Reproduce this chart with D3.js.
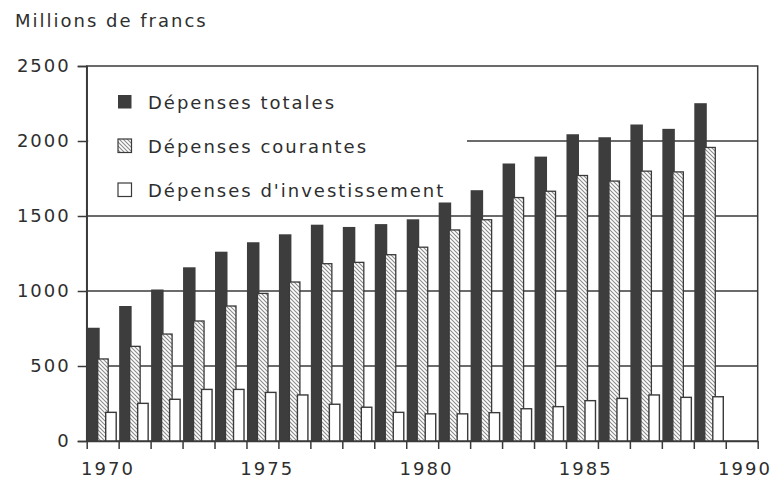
<!DOCTYPE html>
<html>
<head>
<meta charset="utf-8">
<script src="https://cdn.jsdelivr.net/npm/d3@7"></script>
<style>
  html, body { margin: 0; padding: 0; background: #fff; }
  svg { display: block; }
  text { font-family: "DejaVu Sans", sans-serif; font-size: 18px; fill: #2e2e2e; letter-spacing: 2px; }
</style>
</head>
<body>
<script>
// ---- data ----
const years = [1970,1971,1972,1973,1974,1975,1976,1977,1978,1979,1980,1981,1982,1983,1984,1985,1986,1987,1988,1989];
const depensesTotales   = [755, 900, 1010, 1158, 1262, 1325, 1378, 1442, 1427, 1446, 1478, 1590, 1672, 1850, 1896, 2045, 2025, 2110, 2081, 2252];
const depensesCourantes = [547, 631, 713, 800, 900, 984, 1060, 1182, 1191, 1242, 1292, 1407, 1475, 1623, 1665, 1770, 1733, 1799, 1794, 1957];
const depensesInvest    = [191, 251, 278, 344, 344, 324, 307, 245, 225, 191, 181, 181, 189, 215, 229, 269, 284, 307, 291, 295];
const seriesNames = ["Dépenses totales", "Dépenses courantes", "Dépenses d'investissement"];
const yTicks = [0, 500, 1000, 1500, 2000, 2500];
const xLabelYears = [1970, 1975, 1980, 1985, 1990];
const yTitle = "Millions de francs";

// ---- layout ----
const W = 773, H = 479;
const L = 86.7, R = 757.7, T = 66, B = 441;
const lineCol = "#3a3a3a";

const svg = d3.select("body").append("svg").attr("width", W).attr("height", H);

const defs = svg.append("defs");
const pat = defs.append("pattern").attr("id", "hatch")
  .attr("patternUnits", "userSpaceOnUse").attr("width", 4).attr("height", 4);
pat.append("rect").attr("width", 4).attr("height", 4).attr("fill", "#fff");
pat.append("path").attr("d", "M0,0 L4,4 M-1,3 L1,5 M3,-1 L5,1")
  .attr("stroke", "#8a8a8a").attr("stroke-width", 1.1);

const x = d3.scaleLinear().domain([1970, 1991]).range([L, R]);
const xLab = d3.scaleLinear().domain([1970, 1990]).range([107, 744]);
const y = d3.scaleLinear().domain([0, 2500]).range([B, T]);

// title
svg.append("text").attr("x", 15).attr("y", 27).text(yTitle);

// gridlines
svg.append("g").selectAll("line").data(yTicks.filter(v => v > 0 && v < 2500)).join("line")
  .attr("x1", L).attr("x2", R).attr("y1", d => y(d)).attr("y2", d => y(d))
  .attr("stroke", lineCol).attr("stroke-width", 1.4);

// legend background (hides gridline behind legend)
svg.append("rect").attr("x", L + 1.5).attr("y", T + 1.5).attr("width", 467 - L - 1.5).attr("height", 198 - T)
  .attr("fill", "#fff");

// frame
svg.append("rect").attr("x", L).attr("y", T).attr("width", R - L).attr("height", B - T)
  .attr("fill", "none").attr("stroke", lineCol).attr("stroke-width", 1.5);

// bars
const bars = svg.append("g");
const dark = "#3d3d3d";
bars.selectAll("rect.tot").data(years).join("rect").attr("class", "tot")
  .attr("x", d => x(d) + 0.5).attr("width", 12.5)
  .attr("y", (d, i) => y(depensesTotales[i])).attr("height", (d, i) => B - y(depensesTotales[i]))
  .attr("fill", dark);
bars.selectAll("rect.cou").data(years).join("rect").attr("class", "cou")
  .attr("x", d => x(d) + 11).attr("width", 10.5)
  .attr("y", (d, i) => y(depensesCourantes[i])).attr("height", (d, i) => B - y(depensesCourantes[i]))
  .attr("fill", "url(#hatch)").attr("stroke", lineCol).attr("stroke-width", 1.3);
bars.selectAll("rect.inv").data(years).join("rect").attr("class", "inv")
  .attr("x", d => x(d) + 19).attr("width", 10.5)
  .attr("y", (d, i) => y(depensesInvest[i])).attr("height", (d, i) => B - y(depensesInvest[i]))
  .attr("fill", "#fff").attr("stroke", lineCol).attr("stroke-width", 1.4);

// y axis
const yAxis = svg.append("g").attr("transform", `translate(${L},0)`)
  .call(d3.axisLeft(y).tickValues(yTicks).tickSize(9).tickPadding(7).tickFormat(d3.format("d")));
yAxis.select(".domain").attr("stroke", lineCol).attr("stroke-width", 1.5);
yAxis.selectAll(".tick line").attr("stroke", lineCol).attr("stroke-width", 1.5);
yAxis.selectAll(".tick text").attr("font-size", null).attr("font-family", null).attr("fill", "#2e2e2e");

// x axis ticks
const xAxis = svg.append("g").attr("transform", `translate(0,${B})`)
  .call(d3.axisBottom(x).tickValues(d3.range(1970, 1992)).tickSize(8).tickSizeOuter(0).tickFormat(""));
xAxis.select(".domain").attr("stroke", lineCol).attr("stroke-width", 1.5);
xAxis.selectAll(".tick line").attr("stroke", lineCol).attr("stroke-width", 1.5);

// x labels
svg.append("g").selectAll("text").data(xLabelYears).join("text")
  .attr("x", d => xLab(d) + 1).attr("y", 475).attr("text-anchor", "middle").text(d => d);

// legend
const lg = svg.append("g");
const ly = [95, 139, 183];
const swFill = [dark, "url(#hatch)", "#fff"];
lg.selectAll("rect").data(seriesNames).join("rect")
  .attr("x", 118).attr("y", (d, i) => ly[i]).attr("width", 13.5).attr("height", 13.5)
  .attr("fill", (d, i) => swFill[i])
  .attr("stroke", (d, i) => i === 0 ? "none" : lineCol).attr("stroke-width", 1.2);
lg.selectAll("text").data(seriesNames).join("text")
  .attr("x", 148).attr("y", (d, i) => ly[i] + 13.5).text(d => d);
</script>
</body>
</html>
